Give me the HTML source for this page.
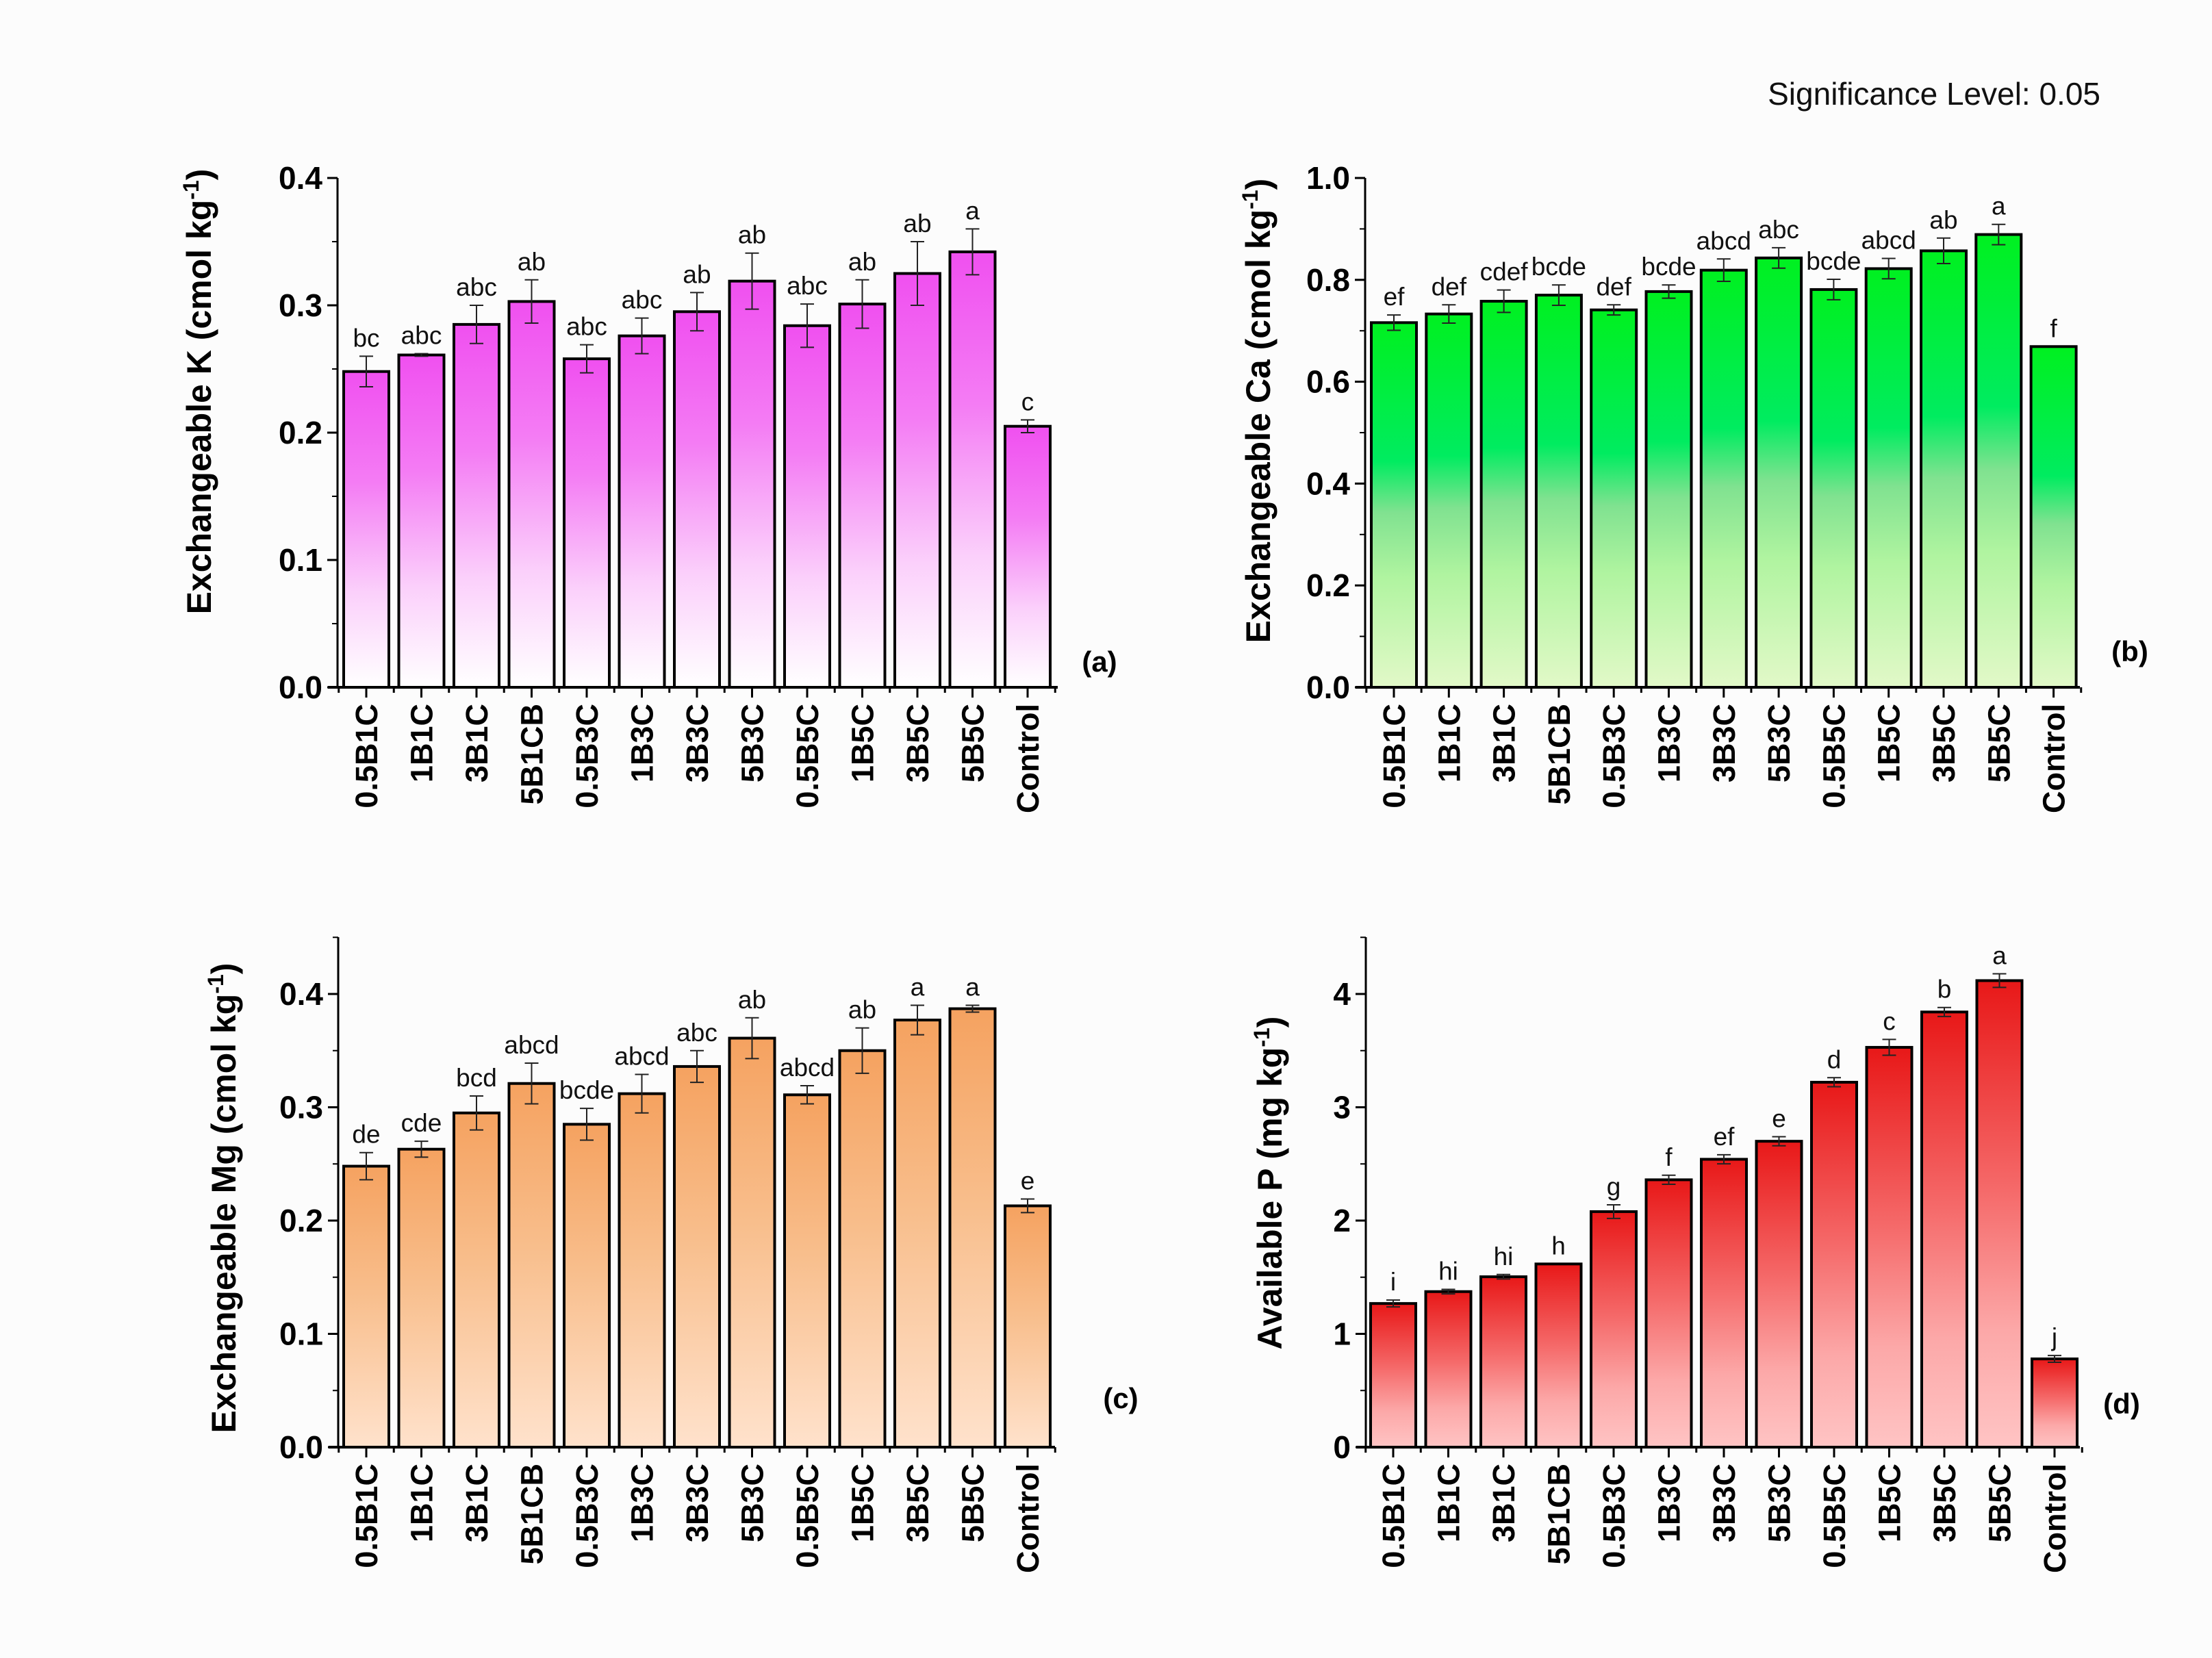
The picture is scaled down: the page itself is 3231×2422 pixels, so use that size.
<!DOCTYPE html>
<html><head><meta charset="utf-8">
<style>
html,body{margin:0;padding:0;background:#fcfcfc;}
svg{display:block;font-family:"Liberation Sans",Arial,sans-serif;}
</style></head>
<body>
<svg id="fig" width="3231" height="2422" viewBox="0 0 3231 2422" xmlns="http://www.w3.org/2000/svg">
<defs>
<linearGradient id="gK" x1="0" y1="0" x2="0" y2="1">
<stop offset="0" stop-color="#f050f0"/><stop offset="0.35" stop-color="#f47cf4"/><stop offset="0.7" stop-color="#fbd0fb"/><stop offset="1" stop-color="#ffffff"/></linearGradient>
<linearGradient id="gCa" x1="0" y1="0" x2="0" y2="1">
<stop offset="0" stop-color="#00f020"/><stop offset="0.38" stop-color="#00ec60"/><stop offset="0.52" stop-color="#80e290"/><stop offset="0.7" stop-color="#b0f4a0"/><stop offset="1" stop-color="#e2f9c8"/></linearGradient>
<linearGradient id="gMg" x1="0" y1="0" x2="0" y2="1">
<stop offset="0" stop-color="#f5a260"/><stop offset="0.45" stop-color="#f8be8c"/><stop offset="1" stop-color="#ffe2cc"/></linearGradient>
<linearGradient id="gP" x1="0" y1="0" x2="0" y2="1">
<stop offset="0" stop-color="#e81818"/><stop offset="0.45" stop-color="#f56a6a"/><stop offset="0.75" stop-color="#fca8a8"/><stop offset="1" stop-color="#ffc4c4"/></linearGradient>
</defs>
<text x="3068" y="153" font-size="46" text-anchor="end" fill="#111">Significance Level: 0.05</text>
</svg>
<script>
const categories = ["0.5B1C","1B1C","3B1C","5B1CB","0.5B3C","1B3C","3B3C","5B3C","0.5B5C","1B5C","3B5C","5B5C","Control"];
const kValues = [0.248,0.261,0.285,0.303,0.258,0.276,0.295,0.319,0.284,0.301,0.325,0.342,0.205];
const kErrors = [0.012,0.001,0.015,0.017,0.011,0.014,0.015,0.022,0.017,0.019,0.025,0.018,0.005];
const kLetters = ["bc","abc","abc","ab","abc","abc","ab","ab","abc","ab","ab","a","c"];
const caValues = [0.716,0.733,0.758,0.770,0.741,0.777,0.819,0.843,0.781,0.822,0.857,0.889,0.669];
const caErrors = [0.015,0.018,0.022,0.020,0.010,0.013,0.022,0.020,0.020,0.020,0.025,0.020,0.0];
const caLetters = ["ef","def","cdef","bcde","def","bcde","abcd","abc","bcde","abcd","ab","a","f"];
const mgValues = [0.248,0.263,0.295,0.321,0.285,0.312,0.336,0.361,0.311,0.350,0.377,0.387,0.213];
const mgErrors = [0.012,0.007,0.015,0.018,0.014,0.017,0.014,0.018,0.008,0.020,0.013,0.003,0.006];
const mgLetters = ["de","cde","bcd","abcd","bcde","abcd","abc","ab","abcd","ab","a","a","e"];
const pValues = [1.268,1.373,1.504,1.617,2.079,2.360,2.541,2.700,3.221,3.529,3.841,4.118,0.779];
const pErrors = [0.03,0.02,0.02,0.0,0.06,0.04,0.04,0.04,0.04,0.07,0.04,0.06,0.03];
const pLetters = ["i","hi","hi","h","g","f","ef","e","d","c","b","a","j"];
const kTicks = ["0.0","0.1","0.2","0.3","0.4"];
const caTicks = ["0.0","0.2","0.4","0.6","0.8","1.0"];
const mgTicks = ["0.0","0.1","0.2","0.3","0.4"];
const pTicks = ["0","1","2","3","4"];

const NS="http://www.w3.org/2000/svg";
const svg=document.getElementById('fig');
function mk(tag,attrs,parent){const e=document.createElementNS(NS,tag);for(const k in attrs)e.setAttribute(k,attrs[k]);(parent||svg).appendChild(e);return e;}

function panel(cfg){
  const g=mk('g',{});
  
  
  const ax=cfg.ax, y0=cfg.y0, yTop=cfg.yTop, yMaxTick=cfg.yMaxTickV, yMaxTickPx=cfg.yMaxTickPx;
  const ys=v=>y0-(v/yMaxTick)*(y0-yMaxTickPx);
  const xs=i=>cfg.x0+i*cfg.dx;
  const bw=66;
  cfg.values.forEach((v,i)=>{
    const r=mk('rect',{x:xs(i)-bw/2,y:ys(v),width:bw,height:y0-ys(v),fill:'url(#'+cfg.grad+')',stroke:'#000','stroke-width':4},g);
    
    
    const e=cfg.errors[i];
    if(e>0){
      const eb=mk('g',{stroke:'#222','stroke-width':2},g);
      
      
      mk('line',{x1:xs(i),x2:xs(i),y1:ys(v+e),y2:ys(v-e)},eb);
      mk('line',{x1:xs(i)-10,x2:xs(i)+10,y1:ys(v+e),y2:ys(v+e)},eb);
      mk('line',{x1:xs(i)-10,x2:xs(i)+10,y1:ys(v-e),y2:ys(v-e)},eb);
    }
    const t=mk('text',{x:xs(i),y:ys(v+e)-14,'font-size':37,'text-anchor':'middle',fill:'#111'},g);
    t.textContent=cfg.letters[i];
    
    
    const xl=mk('text',{transform:'translate('+(xs(i)+16)+','+(y0+24)+') rotate(-90)','font-size':45,'font-weight':'bold','text-anchor':'end',fill:'#000'},g);
    xl.textContent=categories[i];
    
    
    mk('line',{x1:xs(i),x2:xs(i),y1:y0,y2:y0+15,stroke:'#000','stroke-width':3},g);
    mk('line',{x1:xs(i)+cfg.dx/2,x2:xs(i)+cfg.dx/2,y1:y0,y2:y0+8,stroke:'#000','stroke-width':3},g);
  });
  mk('line',{x1:xs(-0.5),x2:xs(-0.5),y1:y0,y2:y0+8,stroke:'#000','stroke-width':3},g);
  const ya=mk('line',{x1:ax,x2:ax,y1:yTop,y2:y0+1,stroke:'#000','stroke-width':3},g);
  
  const xa=mk('line',{x1:ax-14,x2:cfg.xEnd,y1:y0,y2:y0,stroke:'#000','stroke-width':4},g);
  
  const step=yMaxTick/(cfg.ticks.length-1);
  cfg.ticks.forEach((lab,k)=>{
    const v=k*step, y=ys(v);
    mk('line',{x1:ax-15,x2:ax,y1:y,y2:y,stroke:'#000','stroke-width':3},g);
    const mv=v+step/2;
    if(ys(mv)>=yTop-1) mk('line',{x1:ax-8,x2:ax,y1:ys(mv),y2:ys(mv),stroke:'#000','stroke-width':2},g);
    const t=mk('text',{x:ax-22,y:y+16,'font-size':46,'font-weight':'bold','text-anchor':'end',fill:'#000'},g);
    t.textContent=lab;
    
    
  });
  const yt=mk('text',{transform:'translate('+cfg.titleX+','+cfg.titleY+') rotate(-90)','font-size':50,'font-weight':'bold','text-anchor':'middle',fill:'#000'},g);
  yt.innerHTML=cfg.title;
  
  
  const pl=mk('text',{x:cfg.plX,y:cfg.plY,'font-size':42,'font-weight':'bold','text-anchor':'middle',fill:'#000'},g);
  pl.textContent=cfg.plText;
  
  
}
panel({name:'panel-a-potassium',values:kValues,errors:kErrors,letters:kLetters,ticks:kTicks,grad:'gK',ax:493,y0:1004,yTop:260,yMaxTickV:0.4,yMaxTickPx:260,x0:535,dx:80.5,xEnd:1545,
  title:'Exchangeable K (cmol kg<tspan dy="-18" font-size="32">-1</tspan><tspan dy="18">)</tspan>',titleX:308,titleY:572,plX:1606,plY:981,plText:'(a)'});
panel({name:'panel-b-calcium',values:caValues,errors:caErrors,letters:caLetters,ticks:caTicks,grad:'gCa',ax:1994,y0:1004,yTop:260,yMaxTickV:1.0,yMaxTickPx:260,x0:2036,dx:80.3,xEnd:3038,
  title:'Exchangeable Ca (cmol kg<tspan dy="-18" font-size="32">-1</tspan><tspan dy="18">)</tspan>',titleX:1855,titleY:600,plX:3111,plY:966,plText:'(b)'});
panel({name:'panel-c-magnesium',values:mgValues,errors:mgErrors,letters:mgLetters,ticks:mgTicks,grad:'gMg',ax:494,y0:2114,yTop:1369,yMaxTickV:0.4,yMaxTickPx:1452,x0:535,dx:80.5,xEnd:1541,
  title:'Exchangeable Mg (cmol kg<tspan dy="-18" font-size="32">-1</tspan><tspan dy="18">)</tspan>',titleX:344,titleY:1750,plX:1637,plY:2057,plText:'(c)'});
panel({name:'panel-d-phosphorus',values:pValues,errors:pErrors,letters:pLetters,ticks:pTicks,grad:'gP',ax:1995,y0:2114,yTop:1369,yMaxTickV:4,yMaxTickPx:1452,x0:2035,dx:80.5,xEnd:3038,
  title:'Available P (mg kg<tspan dy="-18" font-size="32">-1</tspan><tspan dy="18">)</tspan>',titleX:1872,titleY:1728,plX:3099,plY:2065,plText:'(d)'});
</script>
</body></html>
